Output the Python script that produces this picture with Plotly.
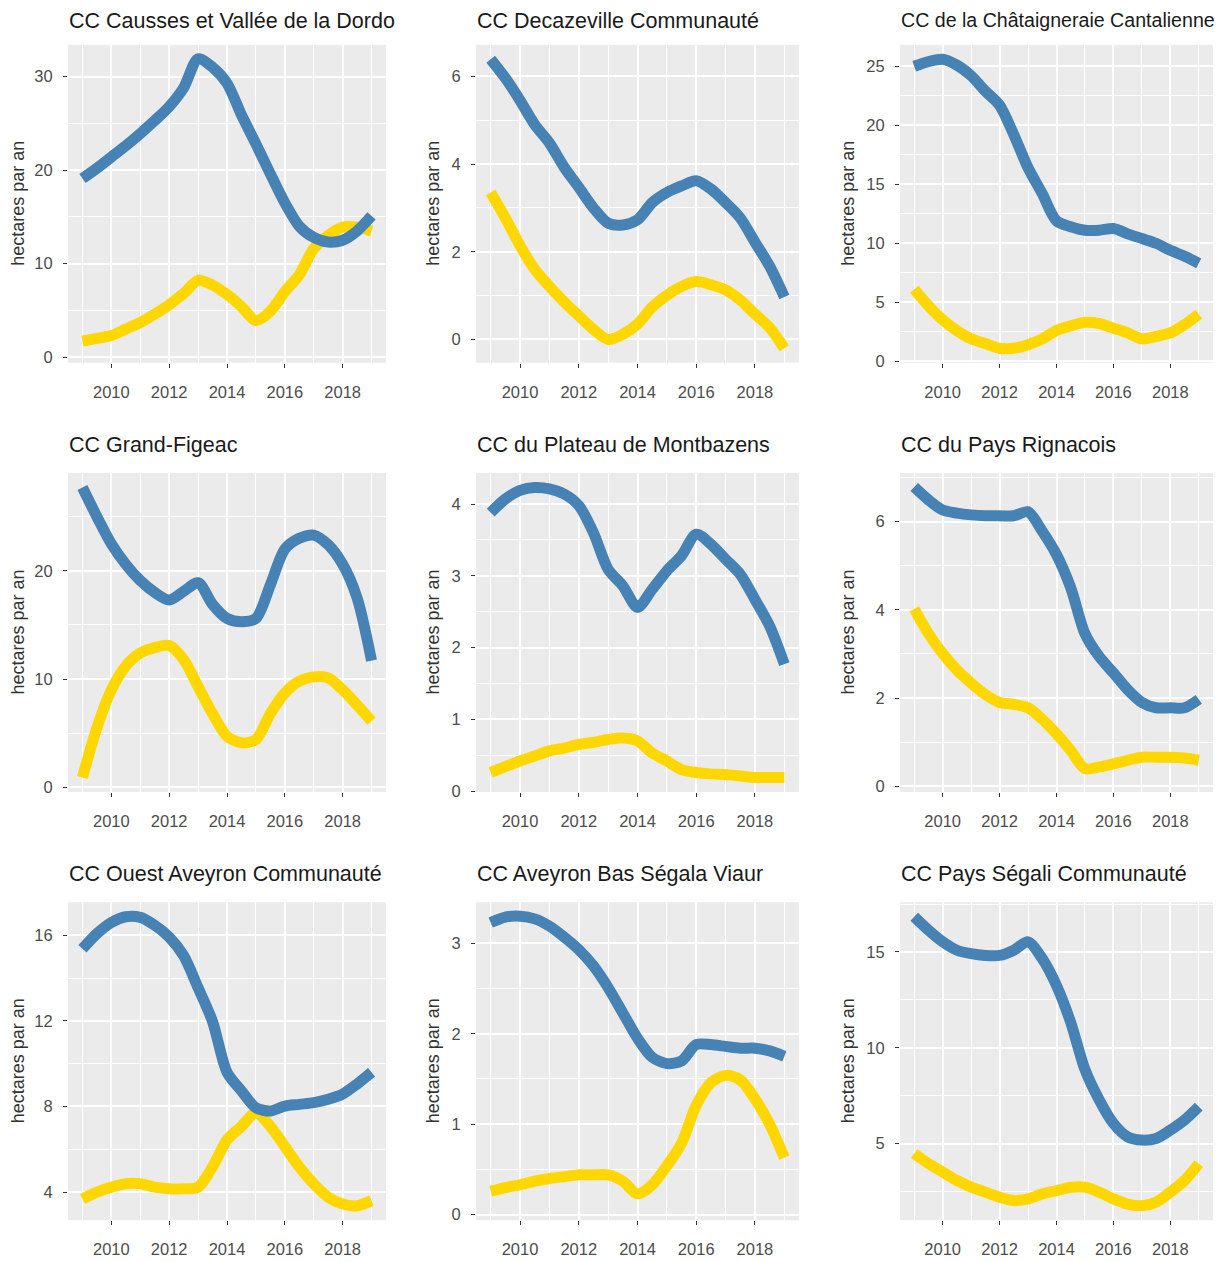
import plotly.graph_objects as go

years = [2009, 2009.5, 2010, 2010.5, 2011, 2011.5, 2012, 2012.5, 2013, 2013.5, 2014,
         2014.5, 2015, 2015.5, 2016, 2016.5, 2017, 2017.5, 2018, 2018.5, 2019]

titles = [
    "CC Causses et Vallée de la Dordo",
    "CC Decazeville Communauté",
    "CC de la Châtaigneraie Cantalienne",
    "CC Grand-Figeac",
    "CC du Plateau de Montbazens",
    "CC du Pays Rignacois",
    "CC Ouest Aveyron Communauté",
    "CC Aveyron Bas Ségala Viaur",
    "CC Pays Ségali Communauté",
]

blue_causses = [19.1, 20.2, 21.4, 22.6, 23.9, 25.3, 26.8, 28.8, 31.9, 31.0, 29.3,
                25.9, 22.8, 19.6, 16.5, 14.0, 12.8, 12.3, 12.5, 13.5, 15.1]
gold_causses = [1.7, 2.0, 2.3, 3.0, 3.7, 4.6, 5.6, 6.8, 8.2, 7.7, 6.7,
                5.4, 3.9, 4.9, 7.0, 8.8, 11.6, 13.0, 13.9, 13.9, 13.5]

blue_decaz = [6.39, 5.96, 5.45, 4.9, 4.48, 3.93, 3.47, 3.0, 2.65, 2.61, 2.73,
              3.12, 3.35, 3.5, 3.62, 3.43, 3.12, 2.77, 2.22, 1.67, 0.97]
gold_decaz = [3.35, 2.77, 2.14, 1.6, 1.21, 0.86, 0.54, 0.23, 0.0, 0.12, 0.35,
              0.74, 1.01, 1.21, 1.32, 1.25, 1.13, 0.9, 0.58, 0.27, -0.2]

blue_chat = [25.0, 25.4, 25.6, 25.1, 24.2, 22.9, 21.7, 19.2, 16.4, 14.2, 11.9,
             11.4, 11.1, 11.1, 11.25, 10.8, 10.4, 10.0, 9.4, 8.9, 8.3]
gold_chat = [6.1, 4.7, 3.5, 2.6, 1.9, 1.5, 1.1, 1.1, 1.4, 1.9, 2.6,
             3.0, 3.3, 3.2, 2.8, 2.4, 1.9, 2.1, 2.4, 3.1, 4.0]

blue_figeac = [27.7, 25.0, 22.5, 20.6, 19.1, 18.0, 17.3, 18.1, 18.9, 16.9, 15.6,
               15.3, 15.6, 18.7, 22.0, 23.0, 23.3, 22.4, 20.6, 17.5, 11.7]
gold_figeac = [0.9, 5.5, 9.0, 11.2, 12.4, 12.9, 13.1, 11.8, 9.3, 6.8, 4.7,
               4.1, 4.4, 6.8, 8.7, 9.8, 10.2, 10.1, 9.0, 7.6, 6.1]

blue_montb = [3.88, 4.07, 4.19, 4.23, 4.21, 4.14, 3.98, 3.6, 3.09, 2.86, 2.56,
              2.81, 3.07, 3.28, 3.58, 3.44, 3.23, 3.02, 2.67, 2.3, 1.77]
gold_montb = [0.26, 0.34, 0.42, 0.49, 0.56, 0.6, 0.65, 0.68, 0.72, 0.74, 0.7,
              0.53, 0.42, 0.3, 0.26, 0.24, 0.23, 0.21, 0.19, 0.19, 0.19]

blue_rign = [6.78, 6.49, 6.26, 6.19, 6.15, 6.13, 6.13, 6.13, 6.22, 5.78, 5.25,
             4.5, 3.46, 2.94, 2.57, 2.19, 1.9, 1.78, 1.78, 1.78, 1.97]
gold_rign = [4.02, 3.46, 3.01, 2.64, 2.34, 2.08, 1.9, 1.86, 1.78, 1.52, 1.19,
             0.81, 0.4, 0.44, 0.51, 0.59, 0.66, 0.66, 0.66, 0.64, 0.59]

blue_ouest = [15.37, 16.08, 16.6, 16.87, 16.84, 16.47, 15.92, 15.05, 13.55, 11.97, 9.6,
              8.73, 7.94, 7.79, 8.02, 8.1, 8.18, 8.34, 8.58, 9.05, 9.6]
gold_ouest = [3.68, 4.0, 4.23, 4.39, 4.39, 4.23, 4.15, 4.15, 4.23, 5.18, 6.44,
              7.07, 7.71, 7.07, 6.13, 5.18, 4.39, 3.76, 3.44, 3.36, 3.6]

blue_viaur = [3.23, 3.29, 3.3, 3.27, 3.19, 3.07, 2.93, 2.75, 2.51, 2.23, 1.95,
              1.74, 1.67, 1.7, 1.88, 1.88, 1.86, 1.84, 1.84, 1.81, 1.75]
gold_viaur = [0.26, 0.3, 0.33, 0.37, 0.4, 0.42, 0.44, 0.44, 0.44, 0.37, 0.23,
              0.33, 0.54, 0.79, 1.21, 1.46, 1.54, 1.49, 1.28, 1.0, 0.63]

blue_segali = [16.84, 16.14, 15.53, 15.09, 14.91, 14.82, 14.82, 15.09, 15.53, 14.65, 13.25,
               11.32, 8.86, 7.28, 6.05, 5.35, 5.18, 5.26, 5.7, 6.23, 6.93]
gold_segali = [4.47, 3.95, 3.51, 3.07, 2.72, 2.46, 2.19, 2.02, 2.11, 2.37, 2.54,
               2.72, 2.72, 2.46, 2.11, 1.84, 1.75, 1.93, 2.46, 3.07, 3.95]

blue_series = [blue_causses, blue_decaz, blue_chat, blue_figeac, blue_montb,
               blue_rign, blue_ouest, blue_viaur, blue_segali]
gold_series = [gold_causses, gold_decaz, gold_chat, gold_figeac, gold_montb,
               gold_rign, gold_ouest, gold_viaur, gold_segali]

y_dticks = [10, 2, 5, 10, 1, 2, 4, 1, 5]
x_ticks = [2010, 2012, 2014, 2016, 2018]

# ---------- layout geometry (page pixels; the page body adds an 8px margin) ----------
OFF = 8
W, H = 1228 - OFF, 1262 - OFF
col_px = [(68, 386), (476, 799), (900, 1213)]
row_px = [(45, 365), (476, 797), (908, 1228)]
title_top_px = [8, 435, 866]
ytitle_x_px = [18, 433, 848]
title_sizes = [21.5, 21.5, 19.6, 21.5, 21.5, 21.5, 21.5, 21.5, 21.5]


def fx(p):
    return (p - OFF) / W


def fy(p):
    return 1 - (p - OFF) / H


BLUE = "#4682B4"
GOLD = "#FFD700"
PANEL_BG = "#EBEBEB"
TICK_COLOR = "#4D4D4D"
FONT = "Liberation Sans, Arial"

fig = go.Figure()
annotations = []

for i in range(9):
    r, c = divmod(i, 3)
    ax = "" if i == 0 else str(i + 1)
    xa, ya = "x" + ax, "y" + ax
    x0, x1 = col_px[c]
    y0, y1 = row_px[r]

    b, g = blue_series[i], gold_series[i]
    lo, hi = min(b + g), max(b + g)
    pad = 0.05 * (hi - lo)
    lo_r, hi_r = lo - pad, hi + pad
    # make sure the 0 break is shown when it lies on the lower edge
    if 0 < lo_r < 0.1 * y_dticks[i]:
        lo_r = -0.02 * (hi - lo)

    for series, color in ((g, GOLD), (b, BLUE)):
        fig.add_trace(go.Scatter(
            x=years, y=series, mode="lines", xaxis=xa, yaxis=ya,
            line=dict(color=color, width=11, shape="spline", smoothing=0.8),
            showlegend=False, hoverinfo="x+y"))

    fig.layout["xaxis" + ax] = dict(
        domain=[fx(x0), fx(x1)], anchor=ya, range=[2008.5, 2019.5],
        tickmode="array", tickvals=x_ticks, ticktext=[str(t) for t in x_ticks],
        showgrid=True, gridcolor="white", gridwidth=1.8, zeroline=False,
        ticks="outside", ticklen=4, tickcolor="#333333", tickwidth=1,
        ticklabelstandoff=10,
        tickfont=dict(family=FONT, size=16.5, color=TICK_COLOR),
        minor=dict(tickmode="linear", tick0=2009, dtick=1, showgrid=True,
                   gridcolor="white", gridwidth=0.9, ticks=""),
        showline=False, fixedrange=True)
    fig.layout["yaxis" + ax] = dict(
        domain=[fy(y1), fy(y0)], anchor=xa, range=[lo_r, hi_r],
        tickmode="linear", tick0=0, dtick=y_dticks[i],
        showgrid=True, gridcolor="white", gridwidth=1.8, zeroline=False,
        ticks="outside", ticklen=4, tickcolor="#333333", tickwidth=1,
        ticklabelstandoff=7,
        tickfont=dict(family=FONT, size=16.5, color=TICK_COLOR),
        minor=dict(tickmode="linear", tick0=y_dticks[i] / 2, dtick=y_dticks[i],
                   showgrid=True, gridcolor="white", gridwidth=0.9, ticks=""),
        showline=False, fixedrange=True)

    annotations.append(dict(
        text=titles[i], xref="paper", yref="paper",
        x=fx(x0), y=fy(title_top_px[r]), xanchor="left", yanchor="top",
        showarrow=False, borderpad=0,
        font=dict(family=FONT, size=title_sizes[i], color="#1A1A1A")))
    annotations.append(dict(
        text="hectares par an", xref="paper", yref="paper",
        x=fx(ytitle_x_px[c]), y=fy((y0 + y1) / 2), xanchor="center",
        yanchor="middle", textangle=-90, showarrow=False,
        font=dict(family=FONT, size=18, color="#333333")))

fig.update_layout(
    width=W, height=H, margin=dict(l=0, r=0, t=0, b=0),
    paper_bgcolor="white", plot_bgcolor=PANEL_BG,
    annotations=annotations, showlegend=False)

fig.write_html("out.html")
